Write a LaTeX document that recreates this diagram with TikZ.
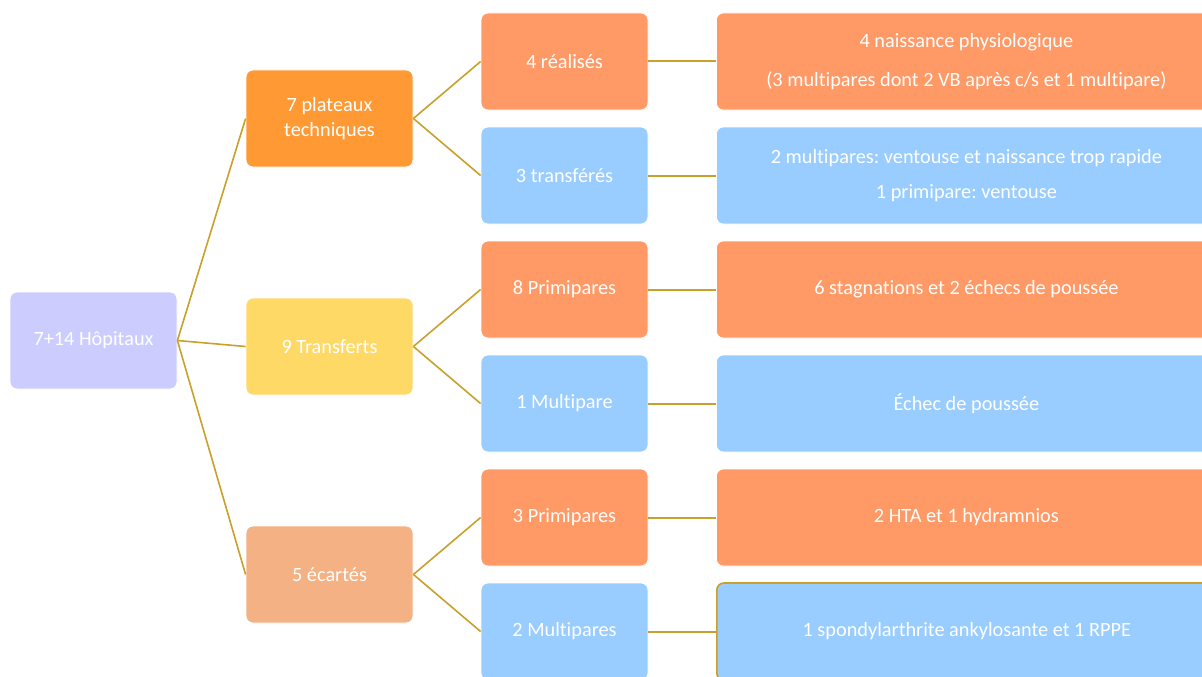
\documentclass[tikz,border=0pt]{standalone}
\usepackage{fontspec}
\setmainfont{Carlito}[Ligatures=NoCommon]
\definecolor{lav}{HTML}{CCCCFF}
\definecolor{org}{HTML}{FF9933}
\definecolor{yel}{HTML}{FFD966}
\definecolor{pch}{HTML}{F4B183}
\definecolor{sal}{HTML}{FF9966}
\definecolor{blu}{HTML}{99CCFF}
\definecolor{gold}{HTML}{C8A02A}
\begin{document}
\frenchspacing
\begin{tikzpicture}[x=1pt,y=-1pt,
  box/.style={rounded corners=7pt,draw=white,line width=0.8pt,text=white,
    font=\fontsize{20.3}{25}\selectfont,align=center,inner sep=0pt,
    minimum width=167pt,minimum height=97pt},
  conn/.style={draw=gold,line width=1.6pt},
  hconn/.style={draw=gold,line width=2pt}]
\useasboundingbox (0,0) rectangle (1202,677);
% root
\node[box,fill=lav] (root) at (93.5,340.5) {7+14 Hôpitaux};
% level 1
\node[box,fill=org] (a) at (329.5,118.5) {7 plateaux\\techniques};
\node[box,fill=yel] (b) at (329.5,346.5) {9 Transferts};
\node[box,fill=pch] (c) at (329.5,574.5) {5 écartés};
% level 2
\node[box,fill=sal] (a1) at (564.5,61.5) {4 réalisés};
\node[box,fill=blu] (a2) at (564.5,175.5) {3 transférés};
\node[box,fill=sal] (b1) at (564.5,289.5) {8 Primipares};
\node[box,fill=blu] (b2) at (564.5,403.5) {1 Multipare};
\node[box,fill=sal] (c1) at (564.5,517.5) {3 Primipares};
\node[box,fill=blu] (c2) at (564.5,631.5) {2 Multipares};
% level 3
\begin{scope}[box/.append style={minimum width=500pt}]
\node[box,fill=sal,anchor=west,font=\fontsize{20.3}{39}\selectfont] (a1x) at (716,61.5) {4 naissance physiologique\\(3 multipares dont 2 VB après c/s et 1 multipare)};
\node[box,fill=blu,anchor=west,font=\fontsize{20.3}{35}\selectfont] (a2x) at (716,175.5) {2 multipares: ventouse et naissance trop rapide\\1 primipare: ventouse};
\node[box,fill=sal,anchor=west] (b1x) at (716,289.5) {6 stagnations et 2 échecs de poussée};
\node[box,fill=blu,anchor=west] (b2x) at (716,403.5) {Échec de poussée};
\node[box,fill=sal,anchor=west] (c1x) at (716,517.5) {2 HTA et 1 hydramnios};
\node[box,fill=blu,anchor=west,draw=gold,line width=1.6pt] (c2x) at (716,631.5) {1 spondylarthrite ankylosante et 1 RPPE};
\end{scope}
% connectors
\foreach \t in {a,b,c} \draw[conn] (root.east) -- (\t.west);
\foreach \s/\t in {a/a1,a/a2,b/b1,b/b2,c/c1,c/c2} \draw[conn] (\s.east) -- (\t.west);
\foreach \s in {a1,a2,b1,b2,c1,c2} \draw[hconn] (\s.east) -- (\s x.west);
\end{tikzpicture}
\end{document}
